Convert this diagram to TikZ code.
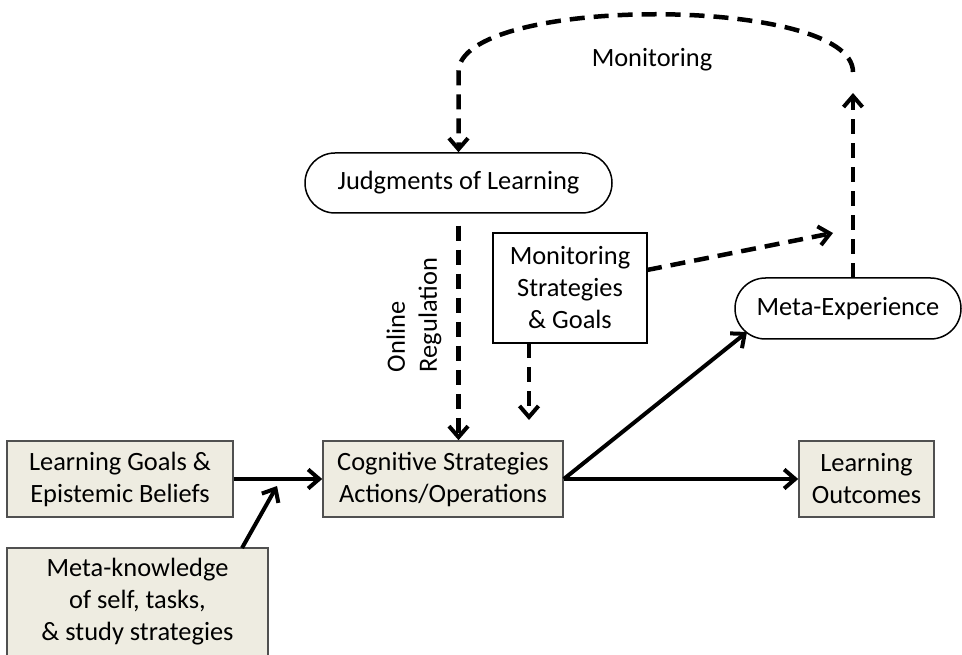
\documentclass[tikz,border=0pt]{standalone}
\usepackage{fontspec}
\setmainfont{Carlito}
\usetikzlibrary{arrows.meta,shapes.misc,calc}
\definecolor{beige}{HTML}{EEECE1}
\definecolor{bord}{HTML}{505050}
\begin{document}
\begin{tikzpicture}[x=1pt,y=-1pt,
  every node/.style={font=\fontsize{26.4}{32}\selectfont, inner sep=0pt},
  bbox/.style={draw=bord, fill=beige, line width=1.6pt, align=center},
  wbox/.style={draw=black, fill=white, line width=1.6pt, align=center},
  stad/.style={rounded rectangle, draw=black, line width=1.5pt, align=center},
  sarrow/.style={line width=4pt, -{Straight Barb[length=11pt,width=19pt,line width=4pt]}},
  darrow/.style={line width=4.5pt, dash pattern=on 15pt off 9pt, -{Straight Barb[length=11pt,width=19pt,line width=4pt]}}
]
\useasboundingbox (0,0) rectangle (962,655);

% nodes
\node[bbox, minimum width=226pt, minimum height=76pt] (lg) at (120,479) {Learning Goals \&\\Epistemic Beliefs};
\node[bbox, minimum width=261pt, minimum height=108pt] (mk) at (137.5,602) {Meta-knowledge\\of self, tasks,\\\& study strategies};
\node[bbox, minimum width=240pt, minimum height=76pt] (cog) at (443,479) {Cognitive Strategies\\Actions/Operations};
\node[bbox, minimum width=135pt, minimum height=76pt] (lo) at (866.5,479) {Learning\\Outcomes};
\node[stad, minimum width=307pt, minimum height=60pt] (jol) at (458.5,183) {Judgments of Learning};
\node[wbox, minimum width=154pt, minimum height=110pt] (msg) at (570,288) {Monitoring\\Strategies\\\& Goals};
\node[stad, minimum width=226pt, minimum height=61pt] (me) at (848,308.5) {Meta-Experience};
\node (monlbl) at (652,60) {Monitoring};
\node[rotate=90, align=left] (onreg) at (414,315) {Online\\Regulation};

% coordinates
\coordinate (mkstart) at (242,548);
\coordinate (mkend) at (277,486);
\coordinate (meend) at (747,332);
\coordinate (msgdown) at (529,343);
\coordinate (msgdownend) at (529,420);
\coordinate (msgright) at (647,270);
\coordinate (msgrightend) at (833,233);
\coordinate (metop) at (853,278);
\coordinate (meup) at (853,93);
\coordinate (loopR) at (853,72);
\coordinate (loopL) at (458.5,72);

% solid connectors
\draw[sarrow] (lg.east) -- (cog.west);
\draw[sarrow] (mkstart) -- (mkend);
\draw[sarrow] (cog.east) -- (lo.west);
\draw[sarrow] (cog.east) -- (meend);

% dashed connectors
\draw[darrow] ([yshift=-12pt]jol.south) -- (jol.south |- cog.north);
\draw[darrow] (msgdown) -- (msgdownend);
\draw[darrow] (msgright) -- (msgrightend);
\draw[darrow] (metop) -- (meup);
\draw[darrow] (loopR) .. controls (853,-5) and (458.5,-5) .. (loopL) -- (jol.north);
\end{tikzpicture}
\end{document}
